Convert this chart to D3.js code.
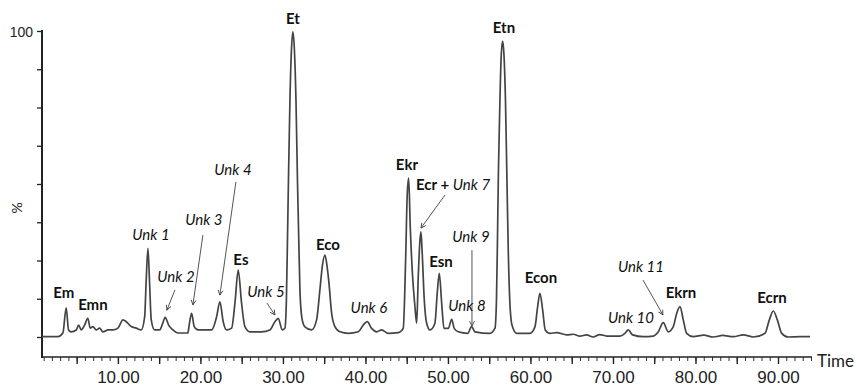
<!DOCTYPE html>
<html>
<head>
<meta charset="utf-8">
<script src="https://cdn.jsdelivr.net/npm/d3@7"></script>
<style>
  body { margin: 0; background: #fff; }
  svg { display: block; font-family: Lato, "Open Sans", sans-serif; }
  .lbl { font-size: 15px; fill: #111; }
  .nm { font-weight: bold; }
  .unk { font-style: italic; }
</style>
</head>
<body>
<svg id="chart" viewBox="0 0 857 388" width="857" height="388"></svg>
<script>
// retention time (min) and relative abundance (%)
const time = [0.8, 2.73, 3.33, 3.73, 4.02, 4.34, 4.95, 5.24, 5.55, 5.96, 6.36, 6.64, 6.97, 7.37, 7.78, 8.18, 8.79, 9.39, 10.0,
  10.61, 11.01, 11.61, 12.22, 12.82, 13.24, 13.43, 13.64, 13.84, 14.04, 14.45, 15.05, 15.45, 15.73, 16.15, 16.67, 17.27,
  18.48, 18.61, 18.93, 19.25, 19.73, 20.55, 21.36, 21.96, 22.36, 22.76, 23.18, 23.78, 24.18, 24.58, 24.99, 25.39, 26.0,
  27.42, 28.42, 29.03, 29.43, 29.92, 30.24, 30.42, 30.55, 30.67, 30.85, 31.03, 31.21, 31.39, 31.58, 31.76, 31.92, 32.06,
  32.30, 32.67, 33.48, 34.08, 34.48, 34.79, 35.09, 35.33, 35.58, 35.90, 36.30, 36.91, 37.92, 39.13, 39.73, 40.22, 40.75,
  41.36, 41.96, 42.76, 43.98, 44.58, 44.87, 45.07, 45.24, 45.43, 45.67, 46.0, 46.21, 46.40, 46.61, 46.73, 46.88, 47.13,
  47.42, 47.82, 48.42, 48.70, 48.95, 49.24, 49.52, 50.04, 50.45, 50.76, 51.25, 52.39, 52.87, 53.27, 55.09, 55.70, 55.88,
  56.0, 56.12, 56.30, 56.46, 56.63, 56.79, 56.97, 57.15, 57.31, 57.49, 57.76, 58.33, 59.94, 60.55, 60.87, 61.15, 61.48,
  61.79, 62.36, 63.18, 64.39, 65.2, 66.0, 66.8, 67.61, 68.4, 69.24, 70.85, 71.45, 71.85, 72.39, 73.67, 74.88, 75.49,
  76.10, 76.70, 77.31, 77.72, 78.12, 78.52, 78.93, 79.73, 81.0, 82.16, 83.3, 84.58, 85.8, 87.01, 88.42, 88.95, 89.43,
  89.92, 90.45, 91.25, 92.67, 93.88];
const pct = [0.1, 0.1, 1.3, 9.5, 2.3, 1.7, 2.3, 3.9, 2.3, 3.9, 6.1, 2.9, 3.4, 2.3, 2.9, 1.7, 2.3, 2.3, 2.9,
  5.6, 5.0, 3.4, 2.9, 2.3, 6.6, 18.6, 29.0, 17.5, 5.6, 2.3, 2.3, 4.6, 6.4, 3.9, 2.3, 1.3,
  1.3, 3.4, 7.7, 3.4, 2.3, 2.3, 2.3, 6.6, 11.5, 5.0, 2.3, 2.9, 11.0, 21.9, 11.0, 3.4, 1.7,
  1.7, 2.3, 5.0, 6.1, 2.3, 2.9, 12.1, 31.7, 51.3, 77.5, 93.8, 99.7, 93.8, 77.5, 51.3, 31.7, 15.4,
  6.2, 3.3, 2.3, 5.6, 15.4, 23.5, 26.8, 23.5, 17.6, 7.8, 3.4, 1.7, 1.2, 1.7, 3.9, 5.0, 2.8,
  1.7, 2.3, 1.2, 1.4, 2.8, 25.2, 47.0, 51.9, 36.0, 21.9, 9.9, 4.5, 19.7, 31.7, 34.4, 27.4, 12.1,
  4.5, 2.3, 4.5, 14.3, 20.8, 11.0, 2.8, 2.8, 5.8, 2.8, 1.7, 1.2, 3.4, 1.7, 1.2, 2.9, 12.1,
  31.7, 54.6, 77.5, 92.2, 96.7, 92.2, 77.5, 51.3, 28.4, 12.1, 3.9, 1.2, 1.2, 3.4, 9.9, 14.3, 8.8,
  2.3, 1.2, 1.4, 0.7, 0.9, 0.3, 0.7, 0.0, 0.8, 0.3, 0.3, 1.2, 2.3, 0.7, 0.1, 0.3, 1.7,
  4.7, 1.7, 3.4, 7.7, 9.9, 5.6, 1.2, 0.1, 0.6, 0.0, 0.5, 0.1, 0.7, 0.0, 1.2, 5.6, 8.5,
  5.6, 1.2, 0.0, 0.1, 0.1];

// peak labels: text, time, % (baseline of the text)
const labelText = ["Em", "Emn", "Unk 1", "Unk 2", "Unk 3", "Unk 4", "Es", "Unk 5", "Et", "Eco", "Unk 6", "Ekr",
  "Esn", "Unk 9", "Unk 8", "Etn", "Econ", "Unk 11", "Unk 10", "Ekrn", "Ecrn"];
const labelTime = [3.45, 6.97, 14.0, 17.03, 20.42, 23.94, 24.91, 27.94, 31.21, 35.45, 40.42, 45.03,
  49.15, 52.79, 52.3, 56.79, 61.27, 73.39, 72.18, 78.24, 89.27];
const labelPct = [12.7, 8.8, 31.7, 18.0, 36.6, 52.9, 23.5, 13.1, 102.3, 28.4, 7.8, 54.6,
  22.9, 31.0, 8.5, 99.3, 17.6, 21.2, 4.6, 12.7, 11.1];

// arrows from label to peak: [t1, p1, t2, p2]
const arrows = [
  [16.91, 15.4, 15.94, 8.8],
  [20.30, 33.3, 19.09, 10.5],
  [24.30, 50.7, 22.36, 13.7],
  [28.06, 11.1, 29.03, 7.2],
  [49.64, 46.4, 46.73, 35.6],
  [52.91, 28.4, 52.91, 3.6],
  [73.64, 18.6, 76.06, 7.2]
];

const yTicks = d3.range(0, 100.1, 12.5);
const xMinor = d3.range(1, 95, 1);
const xMajor = d3.range(5, 95, 5);

const svg = d3.select("#chart");

const x = d3.scaleLinear().domain([0.8, 94]).range([42, 811]);
const y = d3.scaleLinear().domain([0, 100]).range([337, 31]);
const axisY = 357;

// y axis
const gy = svg.append("g").attr("transform", "translate(42,0)")
  .call(d3.axisLeft(y).tickValues(yTicks).tickSize(5).tickPadding(4)
    .tickFormat(d => d === 100 ? "100" : ""));
gy.select(".domain").remove();
gy.selectAll("line").attr("stroke", "#222").attr("stroke-width", 1.3);
gy.selectAll("text").attr("font-size", 14).attr("fill", "#222").attr("dy", "0.4em");
svg.append("line").attr("x1", 42).attr("x2", 42).attr("y1", 30).attr("y2", axisY + 1)
  .attr("stroke", "#222").attr("stroke-width", 2);

svg.append("text").attr("transform", "translate(22,208) rotate(-90)")
  .attr("text-anchor", "middle").attr("font-size", 14).attr("fill", "#222").text("%");

// x axis
const gxm = svg.append("g").attr("transform", `translate(0,${axisY})`)
  .call(d3.axisBottom(x).tickValues(xMinor).tickSize(4).tickFormat(""));
gxm.select(".domain").remove();
gxm.selectAll("line").attr("stroke", "#333").attr("stroke-width", 1);

const gx = svg.append("g").attr("transform", `translate(0,${axisY})`)
  .call(d3.axisBottom(x).tickValues(xMajor).tickSize(7).tickPadding(7)
    .tickFormat(d => d % 10 === 0 ? d3.format(".2f")(d) : ""));
gx.select(".domain").remove();
gx.selectAll("line").attr("stroke", "#222").attr("stroke-width", 1.4);
gx.selectAll("text").attr("font-size", 17).attr("fill", "#222");

svg.append("line").attr("x1", 41).attr("x2", 812).attr("y1", axisY).attr("y2", axisY)
  .attr("stroke", "#222").attr("stroke-width", 1.6);
svg.append("text").attr("x", 817).attr("y", 367).attr("font-size", 17).attr("fill", "#222").text("Time");

// trace
const pts = time.map((t, i) => [t, pct[i]]);
svg.append("path")
  .datum(pts)
  .attr("fill", "none")
  .attr("stroke", "#444")
  .attr("stroke-width", 1.7)
  .attr("stroke-linejoin", "round")
  .attr("d", d3.line().x(d => x(d[0])).y(d => y(d[1])).curve(d3.curveMonotoneX));

// arrows
svg.append("defs").append("marker")
  .attr("id", "head").attr("viewBox", "0 0 10 10").attr("refX", 9).attr("refY", 5)
  .attr("markerWidth", 6).attr("markerHeight", 6).attr("markerUnits", "userSpaceOnUse")
  .attr("orient", "auto")
  .append("path").attr("d", "M1,1 L9,5 L1,9").attr("fill", "none").attr("stroke", "#444").attr("stroke-width", 1.5);

svg.append("g").selectAll("line").data(arrows).enter().append("line")
  .attr("x1", d => x(d[0])).attr("y1", d => y(d[1]))
  .attr("x2", d => x(d[2])).attr("y2", d => y(d[3]))
  .attr("stroke", "#555").attr("stroke-width", 1)
  .attr("marker-end", "url(#head)");

// labels
svg.append("g").selectAll("text").data(labelText).enter().append("text")
  .attr("class", d => "lbl " + (d.startsWith("Unk") ? "unk" : "nm"))
  .attr("x", (d, i) => x(labelTime[i]))
  .attr("y", (d, i) => y(labelPct[i]))
  .attr("text-anchor", "middle")
  .text(d => d);

const ecr = svg.append("text").attr("class", "lbl")
  .attr("x", x(46.12)).attr("y", y(48.0));
ecr.append("tspan").attr("font-weight", "bold").text("Ecr + ");
ecr.append("tspan").attr("font-style", "italic").text("Unk 7");
</script>
</body>
</html>
